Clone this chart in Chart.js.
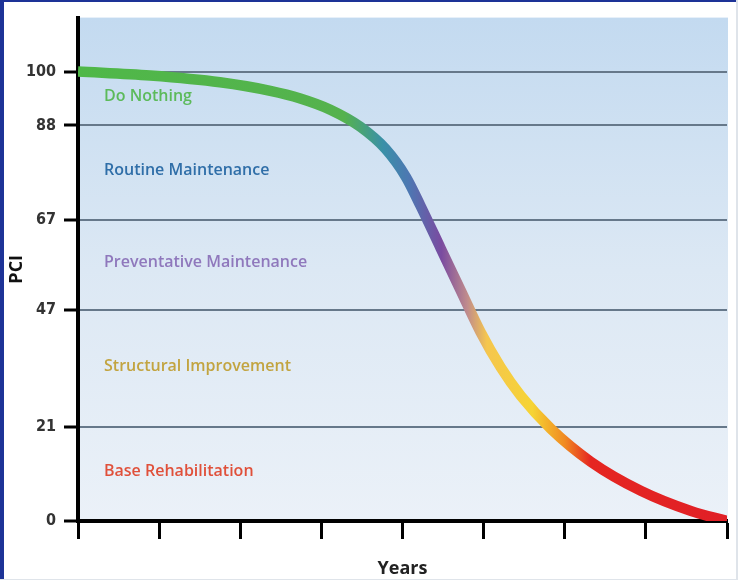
<!DOCTYPE html>
<html>
<head>
<meta charset="utf-8">
<script src="https://cdn.jsdelivr.net/npm/chart.js@4"></script>
<style>
  html, body { margin: 0; padding: 0; background: #fff; }
  #wrap { width: 738px; height: 580px; position: relative; }
  canvas { display: block; }
</style>
</head>
<body>
<div id="wrap"><canvas id="c" width="738" height="580"></canvas></div>
<script>
// ---- data ----
const years = [0, 0.89, 1.75, 2.37, 2.74, 3.11, 3.48, 3.79, 4.04, 4.22, 4.47, 4.72, 4.96, 5.21, 5.46, 5.83, 6.32, 6.94, 7.56, 8];
const pci   = [100, 99.1, 97.6, 95.7, 94.0, 91.5, 87.7, 82.8, 76.6, 70.2, 60.7, 51.2, 42.1, 34.2, 27.8, 20.5, 13.2, 6.7, 2.2, 0];
const yTickValues = [0, 21, 47, 67, 88, 100];
const xTickValues = [0, 1, 2, 3, 4, 5, 6, 7, 8];
const bandLabels = ['Base Rehabilitation', 'Structural Improvement', 'Preventative Maintenance', 'Routine Maintenance', 'Do Nothing'];
const bandColors = ['#e0503a', '#c2a440', '#8f78bc', '#2f6ea8', '#5cba5a'];

const points = years.map((x, i) => ({ x: x, y: pci[i] }));

const pageBg = {
  id: 'pageBg',
  beforeDraw(chart) {
    const c = chart.ctx, a = chart.chartArea;
    c.save();
    c.fillStyle = '#ffffff';
    c.fillRect(0, 0, chart.width, chart.height);
    const g = c.createLinearGradient(0, a.top, 0, a.bottom);
    g.addColorStop(0, '#c3daf0');
    g.addColorStop(0.5, '#dce8f4');
    g.addColorStop(1, '#ebf1f8');
    c.fillStyle = g;
    c.fillRect(a.left, a.top, a.right - a.left + 1, a.bottom - a.top);
    // frame of the picture
    c.fillStyle = '#1d3397';
    c.fillRect(0, 0, 4, chart.height);
    c.fillRect(0, 0, chart.width, 2);
    c.fillStyle = '#dfe4ea';
    c.fillRect(chart.width - 2, 0, 2, chart.height);
    c.fillRect(0, chart.height - 1, chart.width, 1);
    c.restore();
  }
};

const bandText = {
  id: 'bandText',
  beforeDatasetsDraw(chart) {
    const c = chart.ctx, y = chart.scales.y, a = chart.chartArea;
    c.save();
    c.font = '600 16px "Open Sans", sans-serif';
    c.textAlign = 'left';
    c.textBaseline = 'middle';
    const bounds = yTickValues.slice();
    for (let i = 0; i < bandLabels.length; i++) {
      const m = (bounds[i] + bounds[i + 1]) / 2;
      c.fillStyle = bandColors[i];
      c.fillText(bandLabels[i], a.left + 26, y.getPixelForValue(m) - 2);
    }
    c.restore();
  }
};

function curveGradient(context) {
  const chart = context.chart;
  const a = chart.chartArea;
  if (!a) return '#4db848';
  const g = chart.ctx.createLinearGradient(a.left, 0, a.right, 0);
  g.addColorStop(0.00, '#4fb848');
  g.addColorStop(0.41, '#55b24e');
  g.addColorStop(0.47, '#3a90a8');
  g.addColorStop(0.51, '#4d77b2');
  g.addColorStop(0.56, '#7a4ba0');
  g.addColorStop(0.60, '#c08c8c');
  g.addColorStop(0.63, '#f5c64e');
  g.addColorStop(0.70, '#f6d434');
  g.addColorStop(0.75, '#f08a22');
  g.addColorStop(0.79, '#e52621');
  g.addColorStop(1.00, '#e01f26');
  return g;
}

new Chart(document.getElementById('c'), {
  type: 'line',
  data: {
    datasets: [{
      data: points,
      borderColor: curveGradient,
      borderWidth: 10.5,
      pointRadius: 0,
      cubicInterpolationMode: 'monotone',
      fill: false
    }]
  },
  options: {
    responsive: false,
    animation: false,
    layout: { padding: { left: 0, top: 15, right: 11, bottom: 0 } },
    plugins: { legend: { display: false }, tooltip: { enabled: false } },
    scales: {
      x: {
        type: 'linear',
        min: 0, max: 8,
        afterBuildTicks: s => { s.ticks = xTickValues.map(v => ({ value: v })); },
        afterFit: s => { s.height = 59; },
        ticks: { display: false },
        grid: { drawOnChartArea: false, drawTicks: true, tickLength: 18, tickWidth: 3, tickColor: '#000' },
        border: { display: true, width: 4, color: '#000' },
        title: { display: true, text: 'Years', color: '#222', padding: 0,
                 font: { family: '"Open Sans", sans-serif', size: 18, weight: 'bold' } }
      },
      y: {
        type: 'linear',
        min: 0, max: 112,
        afterBuildTicks: s => { s.ticks = yTickValues.map(v => ({ value: v })); },
        afterFit: s => { s.width = 78; },
        ticks: { color: '#333', padding: 8,
                 font: { family: '"Liberation Sans Narrow", "DejaVu Sans Condensed", sans-serif', size: 16, weight: 'bold' } },
        grid: { color: '#66788a', lineWidth: 2, drawTicks: true, tickLength: 14, tickWidth: 3, tickColor: '#000' },
        border: { display: true, width: 4, color: '#000' },
        title: { display: true, text: 'PCI', color: '#111', padding: { top: 6, bottom: 0 },
                 font: { family: '"Open Sans", sans-serif', size: 18, weight: 'bold' } }
      }
    }
  },
  plugins: [pageBg, bandText]
});
</script>
</body>
</html>
